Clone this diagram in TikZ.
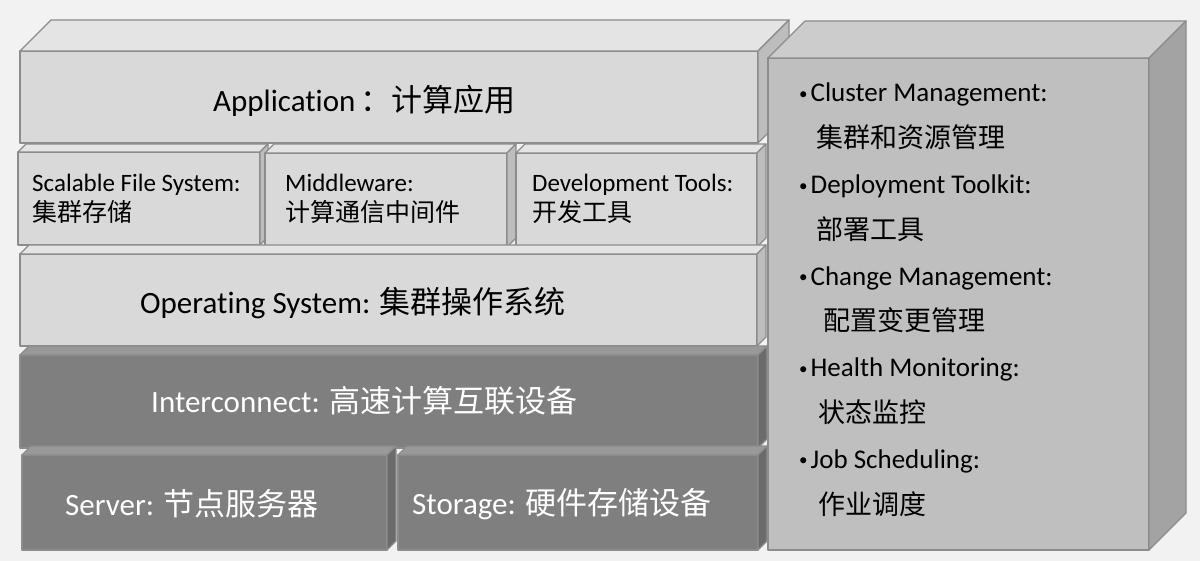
\documentclass[tikz,border=0pt]{standalone}
\usepackage{fontspec}
\setmainfont{Carlito}[Ligatures={NoCommon}]
\newfontfamily\cjk{Noto Sans CJK SC}
\usepackage{tikz}
\usetikzlibrary{positioning, calc}

\definecolor{bgGray}{HTML}{F2F2F2}
\definecolor{edgeGray}{HTML}{8C8C8C}
\definecolor{lightFront}{HTML}{D9D9D9}
\definecolor{lightTop}{HTML}{E4E4E4}
\definecolor{lightSide}{HTML}{BDBDBD}
\definecolor{midFront}{HTML}{BFBFBF}
\definecolor{midTop}{HTML}{CCCCCC}
\definecolor{midSide}{HTML}{A3A3A3}
\definecolor{darkFront}{HTML}{7F7F7F}
\definecolor{darkTop}{HTML}{999999}
\definecolor{darkSide}{HTML}{6B6B6B}

% top and side faces of a cube: node, depth, top colour, side colour
\newcommand{\cubefaces}[4]{%
  \filldraw[faceline, fill=#3] (#1.north west) -- ++(#2,-#2)
    -- ([shift={(#2,-#2)}]#1.north east) -- (#1.north east) -- cycle;
  \filldraw[faceline, fill=#4] (#1.north east) -- ++(#2,-#2)
    -- ([shift={(#2,-#2)}]#1.south east) -- (#1.south east) -- cycle;
}
% small list bullet
\newcommand{\listdot}{{\fontsize{17}{17}\selectfont\raisebox{2.5pt}{\textbullet}}\hspace{3pt}}

\begin{document}
\begin{tikzpicture}[
    x=1pt, y=-1pt,
    faceline/.style={draw=edgeGray, line width=1.2pt, line join=round},
    cube/.style={faceline, anchor=north west, inner sep=0pt, outer sep=0pt},
    lightcube/.style={cube, fill=lightFront},
    darkcube/.style={cube, fill=darkFront},
    bigtxt/.style={anchor=base west, inner sep=0pt, font=\fontsize{31}{37}\selectfont},
    smalltxt/.style={anchor=base west, inner sep=0pt, font=\fontsize{25}{30}\selectfont},
    listtxt/.style={anchor=base west, inner sep=0pt, font=\fontsize{27}{32}\selectfont}
]
\fill[bgGray] (0,0) rectangle (1200,561);
\useasboundingbox (0,0) rectangle (1200,561);

% software stack
\node[lightcube, minimum width=738pt, minimum height=92pt] (app) at (20,51) {};
\cubefaces{app}{31}{lightTop}{lightSide}
\node[bigtxt] (appT) at (213,112) {Application\,{\cjk ：计算应用}};

\node[lightcube, minimum width=242pt, minimum height=93pt] (sfs) at (18,152) {};
\cubefaces{sfs}{8}{lightTop}{lightSide}
\node[smalltxt] (sfsA) at (32,192) {Scalable File System:};
\node[smalltxt] (sfsB) at (32,222) {\cjk 集群存储};

\node[lightcube, minimum width=242pt, minimum height=94pt] (mid) at (265,153) {};
\cubefaces{mid}{9}{lightTop}{lightSide}
\node[smalltxt] (midA) at (285,192) {Middleware:};
\node[smalltxt] (midB) at (285,222) {\cjk 计算通信中间件};

\node[lightcube, minimum width=241pt, minimum height=94pt] (dev) at (516,153) {};
\cubefaces{dev}{9}{lightTop}{lightSide}
\node[smalltxt] (devA) at (532,192) {Development Tools:};
\node[smalltxt] (devB) at (532,222) {\cjk 开发工具};

\node[lightcube, minimum width=737pt, minimum height=92pt] (os) at (20,254) {};
\cubefaces{os}{9}{lightTop}{lightSide}
\node[bigtxt] (osT) at (140,314) {Operating System: {\cjk 集群操作系统}};

% hardware
\node[darkcube, minimum width=738pt, minimum height=93pt] (ic) at (20,355) {};
\cubefaces{ic}{9}{darkTop}{darkSide}
\node[bigtxt, text=white] (icT) at (151,412) {Interconnect: {\cjk 高速计算互联设备}};

\node[darkcube, minimum width=365pt, minimum height=95pt] (srv) at (22,455) {};
\cubefaces{srv}{9}{darkTop}{darkSide}
\node[bigtxt, text=white] (srvT) at (65,515) {Server: {\cjk 节点服务器}};

\node[darkcube, minimum width=360pt, minimum height=95pt] (sto) at (398,455) {};
\cubefaces{sto}{9}{darkTop}{darkSide}
\node[bigtxt, text=white] (stoT) at (412,514) {Storage: {\cjk 硬件存储设备}};

% management box
\node[cube, fill=midFront, minimum width=381pt, minimum height=492pt] (mgmt) at (768,58) {};
\cubefaces{mgmt}{37}{midTop}{midSide}

\foreach \x/\txt [count=\i] in {
    799/{\listdot Cluster Management:}, 816/{\cjk 集群和资源管理},
    799/{\listdot Deployment Toolkit:}, 816/{\cjk 部署工具},
    799/{\listdot Change Management:}, 823/{\cjk 配置变更管理},
    799/{\listdot Health Monitoring:}, 818/{\cjk 状态监控},
    799/{\listdot Job Scheduling:}, 818/{\cjk 作业调度}}
  \node[listtxt] (line\i) at (\x,{102+45.8*(\i-1)}) {\txt};

\end{tikzpicture}
\end{document}
